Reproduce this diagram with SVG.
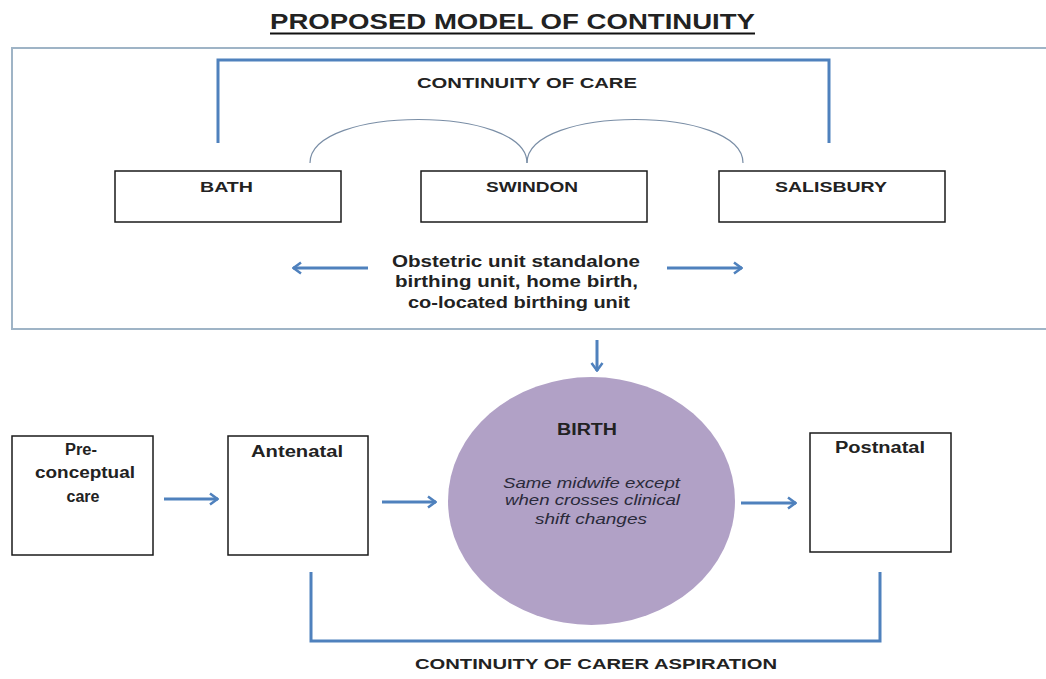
<svg xmlns="http://www.w3.org/2000/svg" width="1046" height="679" viewBox="0 0 1046 679">
<defs>
<marker id="ah" viewBox="0 0 12 14" refX="11" refY="7" markerWidth="12" markerHeight="14" orient="auto-start-reverse" markerUnits="userSpaceOnUse">
<path d="M3,1.5 L10.5,7 L3,12.5" fill="none" stroke="#4f81bd" stroke-width="2.5"/>
</marker>
<style>
.t{font-family:"Liberation Sans",Arial,sans-serif;font-weight:bold;fill:#222;text-anchor:middle}
.box{fill:#fff;stroke:#1a1a1a;stroke-width:1.5}
.br{fill:none;stroke:#4f81bd;stroke-width:3}
.ar{fill:none;stroke:#4f81bd;stroke-width:3;marker-end:url(#ah)}
.arc{fill:none;stroke:#7a8ea6;stroke-width:1.2}
.it{font-family:"Liberation Sans",Arial,sans-serif;font-style:italic;font-size:14px;fill:#2a2a3a;text-anchor:middle}
</style>
</defs>
<rect width="1046" height="679" fill="#fff"/>
<g id="title">
<text class="t" x="512.5" y="29" font-size="22" textLength="485" lengthAdjust="spacingAndGlyphs" fill="#111">PROPOSED MODEL OF CONTINUITY</text>
<line x1="270" y1="33.5" x2="755" y2="33.5" stroke="#111" stroke-width="2"/>
</g>
<g id="outer">
<rect x="12" y="48" width="1045" height="281" fill="none" stroke="#9fb4c6" stroke-width="2"/>
</g>
<g id="connectors">
<path class="br" d="M218,143 V60 H829 V143"/>
<path class="arc" d="M310,163 C310,105 527,105 527,163"/>
<path class="arc" d="M527,163 C527,105 743,105 743,163"/>
<line class="ar" x1="368" y1="268" x2="293" y2="268"/>
<line class="ar" x1="667" y1="268" x2="742" y2="268"/>
<line class="ar" x1="597" y1="340" x2="597" y2="371"/>
<line class="ar" x1="164" y1="499" x2="218" y2="499"/>
<line class="ar" x1="382" y1="502" x2="436" y2="502"/>
<line class="ar" x1="741" y1="503" x2="796" y2="503"/>
<path class="br" d="M311,572 V641 H880 V572"/>
</g>
<g id="continuity-of-care"><text class="t" x="527" y="88" font-size="14" textLength="220" lengthAdjust="spacingAndGlyphs">CONTINUITY OF CARE</text></g>
<g id="bath"><rect class="box" x="115" y="171" width="226" height="51"/><text class="t" x="226.5" y="192" font-size="15.5" textLength="53" lengthAdjust="spacingAndGlyphs">BATH</text></g>
<g id="swindon"><rect class="box" x="421" y="171" width="226" height="51"/><text class="t" x="532" y="192" font-size="15.5" textLength="92" lengthAdjust="spacingAndGlyphs">SWINDON</text></g>
<g id="salisbury"><rect class="box" x="719" y="171" width="226" height="51"/><text class="t" x="831" y="192" font-size="15.5" textLength="112" lengthAdjust="spacingAndGlyphs">SALISBURY</text></g>
<g id="units">
<text class="t" x="516" y="267" font-size="16" textLength="248" lengthAdjust="spacingAndGlyphs">Obstetric unit standalone</text>
<text class="t" x="516.5" y="287" font-size="16" textLength="243" lengthAdjust="spacingAndGlyphs">birthing unit, home birth,</text>
<text class="t" x="519" y="308" font-size="16" textLength="222" lengthAdjust="spacingAndGlyphs">co-located birthing unit</text>
</g>
<g id="preconceptual"><rect class="box" x="12" y="436" width="141" height="119"/>
<text class="t" x="81" y="455" font-size="16" textLength="32" lengthAdjust="spacingAndGlyphs">Pre-</text>
<text class="t" x="85" y="478" font-size="16" textLength="100" lengthAdjust="spacingAndGlyphs">conceptual</text>
<text class="t" x="83" y="502" font-size="16" textLength="33" lengthAdjust="spacingAndGlyphs">care</text></g>
<g id="antenatal"><rect class="box" x="228" y="436" width="140" height="119"/><text class="t" x="297" y="457" font-size="16" textLength="92" lengthAdjust="spacingAndGlyphs">Antenatal</text></g>
<g id="birth"><ellipse cx="591.5" cy="501" rx="143.5" ry="124" fill="#b1a1c6"/>
<text class="t" x="587" y="435" font-size="16" textLength="60" lengthAdjust="spacingAndGlyphs" fill="#1e1a30">BIRTH</text>
<text class="it" x="591.5" y="488" textLength="177" lengthAdjust="spacingAndGlyphs">Same midwife except</text>
<text class="it" x="592.5" y="505" textLength="175" lengthAdjust="spacingAndGlyphs">when crosses clinical</text>
<text class="it" x="591" y="524" textLength="112" lengthAdjust="spacingAndGlyphs">shift changes</text></g>
<g id="postnatal"><rect class="box" x="810" y="433" width="141" height="119"/><text class="t" x="880" y="453" font-size="16" textLength="90" lengthAdjust="spacingAndGlyphs">Postnatal</text></g>
<g id="aspiration"><text class="t" x="596" y="669" font-size="15" textLength="362" lengthAdjust="spacingAndGlyphs">CONTINUITY OF CARER ASPIRATION</text></g>
</svg>
